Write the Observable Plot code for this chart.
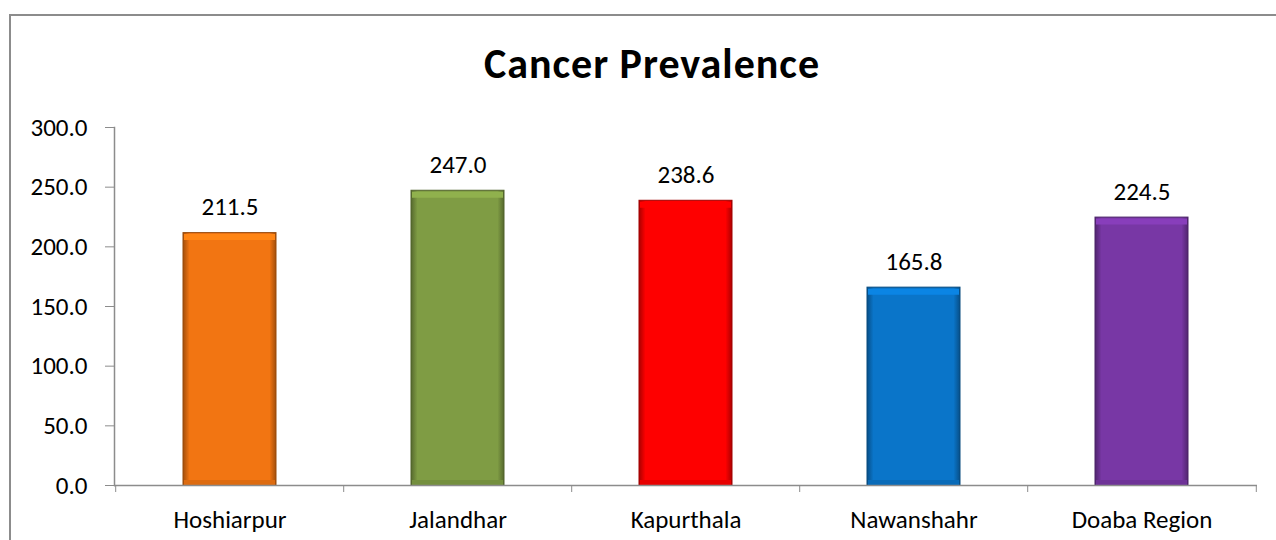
<!DOCTYPE html>
<html>
<head>
<meta charset="utf-8">
<script src="https://cdn.jsdelivr.net/npm/d3@7"></script>
<script src="https://cdn.jsdelivr.net/npm/@observablehq/plot@0.6"></script>
<style>
  html, body { margin: 0; padding: 0; background: #fff; }
  #wrap { position: relative; width: 1276px; height: 540px; overflow: hidden; font-family: Calibri, Carlito, Lato, sans-serif; }
  #border { position: absolute; left: 9px; top: 14px; width: 1400px; height: 600px; border-left: 2px solid #8c8c8c; border-top: 2px solid #8c8c8c; }
  #title { position: absolute; left: 0; width: 1304px; top: 38px; text-align: center; font-size: 42px; letter-spacing: 1px; font-weight: bold; color: #000; }
  #chart { position: absolute; left: 0; top: 0; }
  #chart svg text { font-size: 25px; }
</style>
</head>
<body>
<div id="wrap">
  <div id="border"></div>
  <div id="chart"></div>
  <div id="title">Cancer Prevalence</div>
</div>
<script>
const categories = ["Hoshiarpur", "Jalandhar", "Kapurthala", "Nawanshahr", "Doaba Region"];
const values = [211.5, 247.0, 238.6, 165.8, 224.5];
const barColors = ["#F27512", "#7F9C44", "#FE0000", "#0A75C9", "#7837A5"];
const yTicks = [0, 50, 100, 150, 200, 250, 300];

const data = categories.map((c, i) => ({category: c, value: values[i], color: barColors[i], idx: i}));

const W = 1276, H = 540;
const mL = 114, mR = 19, mT = 127, mB = 55;
const step = (W - mL - mR) / categories.length;

function defs() {
  const ns = "http://www.w3.org/2000/svg";
  const d = document.createElementNS(ns, "defs");
  barColors.forEach((col, i) => {
    const c = d3.color(col);
    const dark = c.darker(1.1).formatHex();
    const g = document.createElementNS(ns, "linearGradient");
    g.setAttribute("id", "side" + i);
    g.setAttribute("x1", "0"); g.setAttribute("x2", "1");
    g.setAttribute("y1", "0"); g.setAttribute("y2", "0");
    [[0, dark], [0.07, col], [0.93, col], [1, dark]].forEach(([o, s]) => {
      const st = document.createElementNS(ns, "stop");
      st.setAttribute("offset", o);
      st.setAttribute("stop-color", s);
      g.appendChild(st);
    });
    d.appendChild(g);
  });
  return d;
}

const plot = Plot.plot({
  width: W, height: H,
  marginLeft: mL, marginRight: mR, marginTop: mT, marginBottom: mB,
  style: {fontFamily: "Calibri, Carlito, Lato, sans-serif", fontSize: "25px", color: "#000", background: "transparent"},
  x: {domain: categories, paddingInner: 0.59, paddingOuter: 0.295, label: null},
  y: {domain: [0, 300], label: null},
  color: {domain: categories.map((c, i) => i), range: barColors.map((c, i) => `url(#side${i})`)},
  marks: [
    defs,
    Plot.barY(data, {x: "category", y: "value", fill: "idx", stroke: d => d3.color(d.color).darker(1.3).formatHex(), strokeWidth: 1}),
    Plot.tickY(data, {x: "category", y: "value", stroke: d => d3.color(d.color).brighter(0.35).formatHex(), strokeWidth: 6, dy: 4, insetLeft: 1, insetRight: 1}),
    Plot.tickY(data, {x: "category", y: 0, stroke: d => d3.color(d.color).darker(0.25).formatHex(), strokeWidth: 5, dy: -3, insetLeft: 1, insetRight: 1}),
    Plot.frame({anchor: "left", stroke: "#8c8c8c", strokeWidth: 1.5}),
    Plot.ruleY([0], {stroke: "#8c8c8c", strokeWidth: 1.5}),
    Plot.axisY({ticks: yTicks, tickFormat: d => d.toFixed(1), tickSize: 9, tickPadding: 18, stroke: "#8c8c8c", fontSize: 25}),
    Plot.axisX({ticks: categories, tickSize: 7, dx: -step / 2, tickFormat: () => "", stroke: "#8c8c8c"}),
    Plot.axisX({ticks: categories.slice(-1), tickSize: 7, dx: step / 2, tickFormat: () => "", stroke: "#8c8c8c"}),
    Plot.axisX({ticks: categories, tickSize: 0, tickPadding: 25, fontSize: 25}),
    Plot.text(data, {x: "category", y: "value", text: d => d.value.toFixed(1), dy: -18, lineAnchor: "bottom", fontSize: 25, fill: "#000"})
  ]
});
document.getElementById("chart").appendChild(plot);
</script>
</body>
</html>
